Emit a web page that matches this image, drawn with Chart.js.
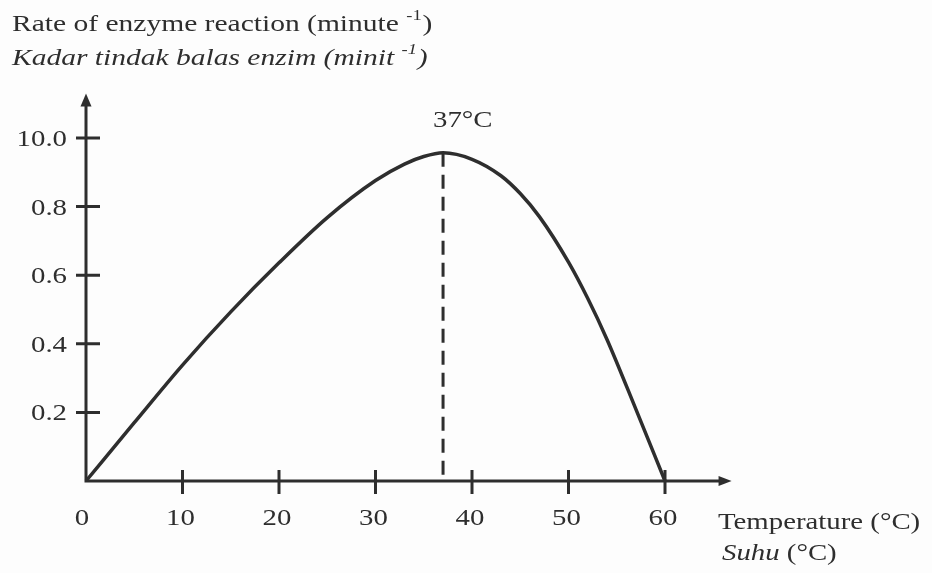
<!DOCTYPE html>
<html>
<head>
<meta charset="utf-8">
<script src="https://cdn.jsdelivr.net/npm/chart.js@4/dist/chart.umd.min.js"></script>
<style>
  html, body { margin: 0; padding: 0; background: #fdfdfd; }
  #c { display: block; }
</style>
</head>
<body>
<canvas id="c" width="932" height="573"></canvas>
<script>
// ---- data ----
const temperatures = [0, 5, 10, 15, 20, 25, 30, 33, 35, 37, 40, 43, 45, 47, 50, 52, 54, 57, 60];
const rates        = [0, 0.17, 0.338, 0.493, 0.636, 0.768, 0.876, 0.924, 0.946, 0.957, 0.938, 0.89, 0.838, 0.77, 0.638, 0.532, 0.412, 0.208, 0];
const xTickValues  = [0, 10, 20, 30, 40, 50, 60];
const xTickLabels  = ["0", "10", "20", "30", "40", "50", "60"];
const yTickValues  = [0.2, 0.4, 0.6, 0.8, 1.0];
const yTickLabels  = ["0.2", "0.4", "0.6", "0.8", "10.0"];
const peakTemp = 37;
const peakRate = 0.957;
const peakLabel = "37°C";
const yTitle1 = "Rate of enzyme reaction (minute ";
const yTitle2 = "Kadar tindak balas enzim (minit ";
const supText = "-1";
const xTitle1 = "Temperature (°C)";
const xTitle2a = "Suhu";
const xTitle2b = " (°C)";

const INK = '#2e2e2e';
const FONT = '"Liberation Serif", "Times New Roman", serif';

function stretchedText(ctx, text, x, y, size, opts) {
  opts = opts || {};
  const sx = opts.sx || 1.2;
  ctx.save();
  ctx.font = (opts.italic ? 'italic ' : '') + size + 'px ' + FONT;
  ctx.fillStyle = INK;
  ctx.textAlign = opts.align || 'left';
  ctx.textBaseline = 'alphabetic';
  ctx.translate(x, y);
  ctx.scale(sx, 1);
  ctx.fillText(text, 0, 0);
  const w = ctx.measureText(text).width * sx;
  ctx.restore();
  return w;
}

const decor = {
  id: 'decor',
  beforeDraw(chart) {
    const ctx = chart.ctx;
    ctx.save();
    ctx.fillStyle = '#fdfdfd';
    ctx.fillRect(0, 0, chart.width, chart.height);
    ctx.restore();
  },
  afterDraw(chart) {
    const ctx = chart.ctx;
    const xs = chart.scales.x, ys = chart.scales.y;
    const x0 = xs.getPixelForValue(0), y0 = ys.getPixelForValue(0);
    const xEnd = xs.getPixelForValue(66.9);
    const yEnd = ys.getPixelForValue(1.13);
    ctx.save();
    ctx.strokeStyle = INK;
    ctx.fillStyle = INK;
    ctx.lineWidth = 3;
    ctx.lineCap = 'butt';
    // axes
    ctx.beginPath();
    ctx.moveTo(x0, y0 + 1.5);
    ctx.lineTo(x0, yEnd + 8);
    ctx.moveTo(x0 - 1.5, y0);
    ctx.lineTo(xEnd - 8, y0);
    ctx.stroke();
    // arrow heads
    ctx.beginPath();
    ctx.moveTo(x0, yEnd);
    ctx.lineTo(x0 - 5.5, yEnd + 13);
    ctx.lineTo(x0 + 5.5, yEnd + 13);
    ctx.closePath();
    ctx.fill();
    ctx.beginPath();
    ctx.moveTo(xEnd, y0);
    ctx.lineTo(xEnd - 13, y0 - 5);
    ctx.lineTo(xEnd - 13, y0 + 5);
    ctx.closePath();
    ctx.fill();
    // tick marks
    ctx.beginPath();
    yTickValues.forEach(v => {
      const py = ys.getPixelForValue(v);
      ctx.moveTo(x0 - 10, py);
      ctx.lineTo(x0 + 14, py);
    });
    xTickValues.forEach(v => {
      if (v === 0) return;
      const px = xs.getPixelForValue(v);
      ctx.moveTo(px, y0 - 11);
      ctx.lineTo(px, y0 + 13);
    });
    ctx.stroke();
    ctx.restore();

    // tick labels
    yTickValues.forEach((v, i) => {
      const py = ys.getPixelForValue(v);
      stretchedText(ctx, yTickLabels[i], x0 - 19, py + 8, 24, { align: 'right' });
    });
    xTickValues.forEach((v, i) => {
      const px = xs.getPixelForValue(v) - (v === 0 ? 4 : 2);
      stretchedText(ctx, xTickLabels[i], px, y0 + 44, 24, { align: 'center' });
    });

    // y title (two lines with superscripts)
    const ts = 1.23;
    let w = stretchedText(ctx, yTitle1, 12, 31, 24, { sx: ts });
    let w2 = stretchedText(ctx, supText, 12 + w, 20, 15, { sx: ts });
    stretchedText(ctx, ")", 12 + w + w2 + 1, 31, 24, { sx: ts });
    w = stretchedText(ctx, yTitle2, 12, 65, 24, { italic: true, sx: ts });
    w2 = stretchedText(ctx, supText, 12 + w, 54, 15, { italic: true, sx: ts });
    stretchedText(ctx, ")", 12 + w + w2 + 1, 65, 24, { italic: true, sx: ts });

    // x title
    stretchedText(ctx, xTitle1, 718, 529, 24);
    const ws = stretchedText(ctx, xTitle2a, 722, 560, 24, { italic: true });
    stretchedText(ctx, xTitle2b, 722 + ws, 560, 24);

    // peak label
    const ppx = xs.getPixelForValue(peakTemp);
    stretchedText(ctx, peakLabel, ppx - 10, ys.getPixelForValue(peakRate) - 26, 24);
  }
};

new Chart(document.getElementById('c'), {
  type: 'line',
  data: {
    datasets: [
      {
        label: 'rate',
        data: temperatures.map((t, i) => ({ x: t, y: rates[i] })),
        borderColor: INK,
        borderWidth: 3.5,
        pointRadius: 0,
        fill: false,
        cubicInterpolationMode: 'monotone',
        clip: false
      },
      {
        label: 'peak',
        data: [{ x: peakTemp, y: peakRate }, { x: peakTemp, y: 0 }],
        borderColor: INK,
        borderWidth: 3,
        borderDash: [14, 8],
        pointRadius: 0,
        fill: false,
        clip: false
      }
    ]
  },
  options: {
    responsive: false,
    animation: false,
    devicePixelRatio: 1,
    layout: { padding: { left: 86, right: 267, top: 138, bottom: 92 } },
    plugins: { legend: { display: false }, tooltip: { enabled: false }, title: { display: false } },
    scales: {
      x: { type: 'linear', min: 0, max: 60, display: false },
      y: { type: 'linear', min: 0, max: 1, display: false }
    }
  },
  plugins: [decor]
});
</script>
</body>
</html>
